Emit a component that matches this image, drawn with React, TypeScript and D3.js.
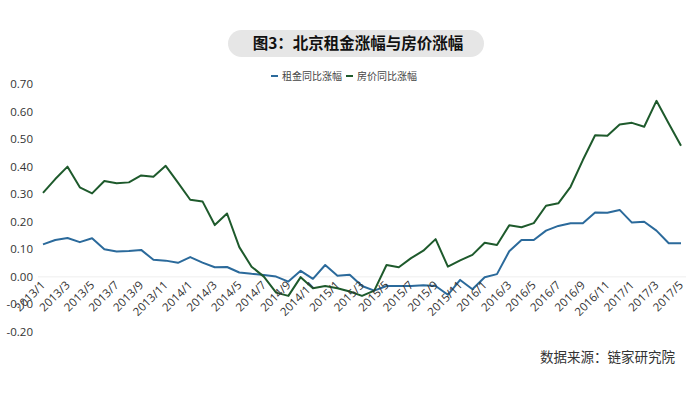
import React from "react";
import * as d3 from "d3";

const months: string[] = [];
for (let y = 2013; y <= 2017; y++) {
  for (let m = 1; m <= 12; m++) {
    if (y === 2017 && m > 5) break;
    months.push(`${y}/${m}`);
  }
}

const rentYoY = [
  0.118, 0.134, 0.141, 0.126, 0.14, 0.1, 0.092, 0.094, 0.098, 0.062, 0.059, 0.051,
  0.072, 0.052, 0.035, 0.036, 0.016, 0.011, 0.007, 0.001, -0.017, 0.022, -0.007, 0.043,
  0.004, 0.008, -0.033, -0.05, -0.033, -0.033, -0.033, -0.03, -0.033, -0.065, -0.011, -0.045,
  -0.001, 0.01, 0.093, 0.134, 0.134, 0.168, 0.185, 0.195, 0.195, 0.234, 0.233, 0.243,
  0.197, 0.2, 0.168, 0.122, 0.122,
];

const priceYoY = [
  0.305, 0.355, 0.4, 0.325, 0.303, 0.348, 0.34, 0.343, 0.368, 0.363, 0.403, 0.342,
  0.28, 0.274, 0.188, 0.23, 0.108, 0.037, 0.001, -0.057, -0.069, -0.001, -0.041, -0.033,
  -0.041, -0.053, -0.069, -0.05, 0.043, 0.035, 0.068, 0.095, 0.137, 0.037, 0.06, 0.08,
  0.124, 0.116, 0.187, 0.18, 0.195, 0.258, 0.267, 0.327, 0.424, 0.514, 0.512, 0.553,
  0.559, 0.545, 0.639, 0.557, 0.476,
];

const yTicks = [-0.2, -0.1, 0, 0.1, 0.2, 0.3, 0.4, 0.5, 0.6, 0.7];
const seriesNames = ["租金同比涨幅", "房价同比涨幅"];
const colors = ["#2b6a9b", "#1e5a2c"];

export default function App() {
  const W = 700, H = 394;
  const x = d3.scaleLinear().domain([0, months.length - 1]).range([43, 681]);
  const y = d3.scaleLinear().domain([-0.2, 0.7]).range([332, 84]);
  const line = d3.line<number>().x((_, i) => x(i)).y((d) => y(d));
  const numFont = "'Open Sans', 'DejaVu Sans', sans-serif";
  const cjk = "'Noto Sans CJK SC', sans-serif";
  return (
    <svg width={W} height={H} style={{ position: "absolute", left: 0, top: 0, background: "#fff" }}>
      <rect x={228} y={30} width={256} height={27} rx={13.5} fill="#e6e6e6" />
      <text x={358} y={49} textAnchor="middle" fontFamily={cjk} fontWeight={700} fontSize={15.5} fill="#111">
        图3：北京租金涨幅与房价涨幅
      </text>
      {seriesNames.map((n, i) => (
        <g key={n} transform={`translate(${271 + i * 75},76)`}>
          <line x1={0} x2={7} y1={0} y2={0} stroke={colors[i]} strokeWidth={2} />
          <text x={11} y={4} fontFamily={cjk} fontSize={10} fill="#444">{n}</text>
        </g>
      ))}
      {yTicks.map((t) => (
        <text key={t} x={33} y={y(t) + 4} textAnchor="end" fontFamily={numFont} fontSize={11.5} fill="#333">
          {t.toFixed(2)}
        </text>
      ))}
      <line x1={38} x2={686} y1={y(0)} y2={y(0)} stroke="#eeeeee" strokeWidth={1} />
      <path d={line(rentYoY) || ""} fill="none" stroke={colors[0]} strokeWidth={2} strokeLinejoin="round" />
      <path d={line(priceYoY) || ""} fill="none" stroke={colors[1]} strokeWidth={2} strokeLinejoin="round" />
      {months.map((m, i) =>
        i % 2 === 0 ? (
          <text
            key={m}
            transform={`translate(${x(i) + 3},${y(0) + 9}) rotate(-45)`}
            textAnchor="end"
            fontFamily={numFont}
            fontSize={11.5}
            fill="#333"
          >
            {m}
          </text>
        ) : null
      )}
      <text x={540} y={362} fontFamily={cjk} fontSize={13.5} fill="#333">数据来源：链家研究院</text>
    </svg>
  );
}
